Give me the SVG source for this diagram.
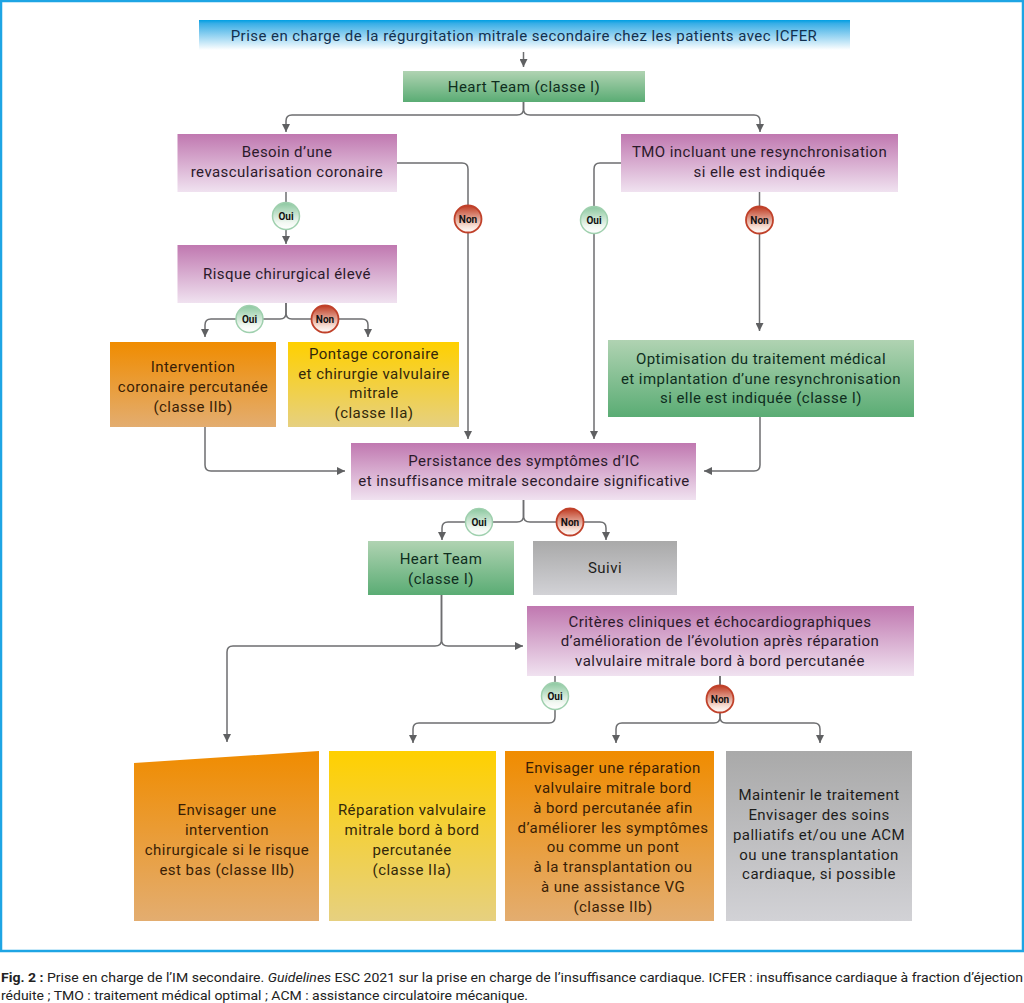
<svg xmlns="http://www.w3.org/2000/svg" width="1024" height="1003" viewBox="0 0 1024 1003">
<style>
text{font-family:"Roboto","Liberation Sans",sans-serif;font-size:15px;fill:#2b1a2b;text-anchor:middle;letter-spacing:.45px}
#n-heart1 text,#n-heart2 text,#n-opti text{fill:#0f2e1e}
#n-icp text,#n-chir text,#n-env text{fill:#3a1e05}
#n-pontage text,#n-repar text{fill:#33280a}
#n-suivi text,#n-maint text{fill:#1d1d1b}
#n-title text{fill:#12304f}
#badges text{font-size:10px;font-weight:700;fill:#111;letter-spacing:0}
.c{font-size:13px;fill:#222;text-anchor:start;letter-spacing:0}
.l{fill:none;stroke:#6d6e70;stroke-width:1.5}
.a{marker-end:url(#ar)}
.y{fill:url(#gOui);stroke:#9fd0ae;stroke-width:1.5}
.n{fill:url(#gNon);stroke:#c0412a;stroke-width:1.8}
</style>
<defs>
<linearGradient id="gBlue" x1="0" y1="0" x2="0" y2="1"><stop offset="0" stop-color="#009fe3"/><stop offset=".12" stop-color="#3aaee6"/><stop offset="1" stop-color="#fff"/></linearGradient>
<linearGradient id="gGreen" x1="0" y1="0" x2="0" y2="1"><stop offset="0" stop-color="#b0d3b2"/><stop offset="1" stop-color="#5aac74"/></linearGradient>
<linearGradient id="gPurple" x1="0" y1="0" x2="0" y2="1"><stop offset="0" stop-color="#c078b0"/><stop offset="1" stop-color="#f0e2f0"/></linearGradient>
<linearGradient id="gOrange" x1="0" y1="0" x2="0" y2="1"><stop offset="0" stop-color="#f08c00"/><stop offset="1" stop-color="#e3ad70"/></linearGradient>
<linearGradient id="gYellow" x1="0" y1="0" x2="0" y2="1"><stop offset="0" stop-color="#ffd000"/><stop offset="1" stop-color="#e6d080"/></linearGradient>
<linearGradient id="gGray" x1="0" y1="0" x2="0" y2="1"><stop offset="0" stop-color="#a9a9a9"/><stop offset="1" stop-color="#d2d2d6"/></linearGradient>
<linearGradient id="gOui" x1="0" y1="0" x2="0" y2="1"><stop offset="0" stop-color="#8cc8a0"/><stop offset=".75" stop-color="#f2f8f2"/><stop offset="1" stop-color="#fff"/></linearGradient>
<linearGradient id="gNon" x1="0" y1="0" x2="0" y2="1"><stop offset="0" stop-color="#bf3b22"/><stop offset=".75" stop-color="#f6ddd2"/><stop offset="1" stop-color="#fff"/></linearGradient>
<marker id="ar" markerUnits="userSpaceOnUse" markerWidth="9" markerHeight="8" refX="8" refY="4" orient="auto"><path d="M0 0L8 4L0 8Z" fill="#5f6062"/></marker>
</defs>
<rect width="1024" height="1003" fill="#fff"/>
<rect id="frame" x="1" y="1" width="1022" height="950" fill="none" stroke="#1ea5e4" stroke-width="2.5"/>
<g id="connectors">
<path class="l a" d="M523.5 52V67"/>
<path class="l a" d="M523.5 102V109Q523.5 115 517 115H292Q286 115 286 121V132"/>
<path class="l a" d="M523.5 102V109Q523.5 115 530 115H754Q760 115 760 121V132"/>
<path class="l a" d="M397 163H462Q468 163 468 169V439"/>
<path class="l a" d="M621 163H600Q594 163 594 169V439"/>
<path class="l a" d="M286 192V244"/>
<path class="l a" d="M759.5 192V331"/>
<path class="l a" d="M286 303V313Q286 319 280 319H211Q205 319 205 325V337"/>
<path class="l a" d="M286 303V313Q286 319 292 319H362Q368 319 368 325V337"/>
<path class="l a" d="M205 427V465Q205 471 211 471H345"/>
<path class="l a" d="M760 417V465Q760 471 754 471H704"/>
<path class="l a" d="M523.5 500V516Q523.5 522 517 522H448Q442 522 442 528V540"/>
<path class="l a" d="M523.5 500V516Q523.5 522 530 522H600Q606 522 606 528V540"/>
<path class="l a" d="M441.500 595V640Q441.500 646 435 646H233Q227 646 227 652V742"/>
<path class="l a" d="M441.500 595V640Q441.500 646 448 646H523"/>
<path class="l a" d="M555 676V717Q555 723 549 723H419Q413 723 413 729V743"/>
<path class="l a" d="M720 676V717Q720 723 714 723H622Q616 723 616 729V743"/>
<path class="l a" d="M720 676V717Q720 723 726 723H814Q820 723 820 729V743"/>
</g>
<g id="n-title"><rect x="199" y="20" width="651" height="30" fill="url(#gBlue)"/><text x="524" y="41">Prise en charge de la régurgitation mitrale secondaire chez les patients avec ICFER</text></g>
<g id="n-heart1"><rect x="403" y="71" width="242" height="31" fill="url(#gGreen)"/><text x="524" y="92">Heart Team (classe I)</text></g>
<g id="n-besoin"><rect x="177.500" y="134" width="219.500" height="58" fill="url(#gPurple)"/><text x="287" y="157">Besoin d’une</text><text x="287" y="177">revascularisation coronaire</text></g>
<g id="n-tmo"><rect x="621" y="134" width="277" height="58" fill="url(#gPurple)"/><text x="759.500" y="157">TMO incluant une resynchronisation</text><text x="759.500" y="177">si elle est indiquée</text></g>
<g id="n-risque"><rect x="177.500" y="245" width="219.500" height="58" fill="url(#gPurple)"/><text x="287" y="279">Risque chirurgical élevé</text></g>
<g id="n-icp"><rect x="110" y="342" width="166" height="85" fill="url(#gOrange)"/><text x="193" y="372">Intervention</text><text x="193" y="392">coronaire percutanée</text><text x="193" y="412">(classe IIb)</text></g>
<g id="n-pontage"><rect x="288" y="342" width="171" height="85" fill="url(#gYellow)"/><text x="374" y="359">Pontage coronaire</text><text x="374" y="379">et chirurgie valvulaire</text><text x="374" y="398">mitrale</text><text x="374" y="418">(classe IIa)</text></g>
<g id="n-opti"><rect x="608" y="340" width="306" height="77" fill="url(#gGreen)"/><text x="761" y="364">Optimisation du traitement médical</text><text x="761" y="384">et implantation d’une resynchronisation</text><text x="761" y="403">si elle est indiquée (classe I)</text></g>
<g id="n-persist"><rect x="351" y="443" width="345" height="57" fill="url(#gPurple)"/><text x="524" y="466">Persistance des symptômes d’IC</text><text x="524" y="486">et insuffisance mitrale secondaire significative</text></g>
<g id="n-heart2"><rect x="368" y="541" width="146" height="54" fill="url(#gGreen)"/><text x="441" y="564">Heart Team</text><text x="441" y="584">(classe I)</text></g>
<g id="n-suivi"><rect x="533" y="541" width="144" height="54" fill="url(#gGray)"/><text x="605" y="573">Suivi</text></g>
<g id="n-criteres"><rect x="527" y="606" width="387" height="70" fill="url(#gPurple)"/><text x="720" y="627">Critères cliniques et échocardiographiques</text><text x="720" y="646">d’amélioration de l’évolution après réparation</text><text x="720" y="666">valvulaire mitrale bord à bord percutanée</text></g>
<g id="n-chir"><path d="M134 763L319 751V921H134Z" fill="url(#gOrange)"/><text x="227" y="815">Envisager une</text><text x="227" y="835">intervention</text><text x="227" y="855">chirurgicale si le risque</text><text x="227" y="875">est bas (classe IIb)</text></g>
<g id="n-repar"><rect x="329" y="751" width="167" height="170" fill="url(#gYellow)"/><text x="412" y="815">Réparation valvulaire</text><text x="412" y="835">mitrale bord à bord</text><text x="412" y="855">percutanée</text><text x="412" y="875">(classe IIa)</text></g>
<g id="n-env"><rect x="505" y="751" width="209" height="170" fill="url(#gOrange)"/><text x="613" y="773">Envisager une réparation</text><text x="613" y="793">valvulaire mitrale bord</text><text x="613" y="813">à bord percutanée afin</text><text x="613" y="833">d’améliorer les symptômes</text><text x="613" y="852">ou comme un pont</text><text x="613" y="872">à la transplantation ou</text><text x="613" y="892">à une assistance VG</text><text x="613" y="912">(classe IIb)</text></g>
<g id="n-maint"><rect x="726" y="751" width="186" height="170" fill="url(#gGray)"/><text x="819" y="800">Maintenir le traitement</text><text x="819" y="820">Envisager des soins</text><text x="819" y="840">palliatifs et/ou une ACM</text><text x="819" y="860">ou une transplantation</text><text x="819" y="879">cardiaque, si possible</text></g>
<g id="badges">
<g id="b1"><circle class="y" cx="286" cy="216" r="13.500"/><text x="286" y="219.500">Oui</text></g>
<g id="b2"><circle class="n" cx="468" cy="219" r="13.500"/><text x="468" y="222.500">Non</text></g>
<g id="b3"><circle class="y" cx="594" cy="220" r="13.500"/><text x="594" y="223.500">Oui</text></g>
<g id="b4"><circle class="n" cx="759.500" cy="220" r="13.500"/><text x="759.500" y="223.500">Non</text></g>
<g id="b5"><circle class="y" cx="249.500" cy="319" r="13.500"/><text x="249.500" y="322.500">Oui</text></g>
<g id="b6"><circle class="n" cx="325" cy="319" r="13.500"/><text x="325" y="322.500">Non</text></g>
<g id="b7"><circle class="y" cx="479" cy="522" r="13.500"/><text x="479" y="525.500">Oui</text></g>
<g id="b8"><circle class="n" cx="570" cy="522" r="13.500"/><text x="570" y="525.500">Non</text></g>
<g id="b9"><circle class="y" cx="555" cy="696" r="13.500"/><text x="555" y="699.500">Oui</text></g>
<g id="b10"><circle class="n" cx="720" cy="699" r="13.500"/><text x="720" y="702.500">Non</text></g>
</g>
<g id="caption">
<text class="c" x="1" y="982" textLength="1022" lengthAdjust="spacingAndGlyphs"><tspan font-weight="700">Fig. 2 :</tspan> Prise en charge de l’IM secondaire. <tspan font-style="italic">Guidelines</tspan> ESC 2021 sur la prise en charge de l’insuffisance cardiaque. ICFER : insuffisance cardiaque à fraction d’éjection</text>
<text class="c" x="1" y="1000" textLength="527" lengthAdjust="spacingAndGlyphs">réduite ; TMO : traitement médical optimal ; ACM : assistance circulatoire mécanique.</text>
</g>
</svg>
